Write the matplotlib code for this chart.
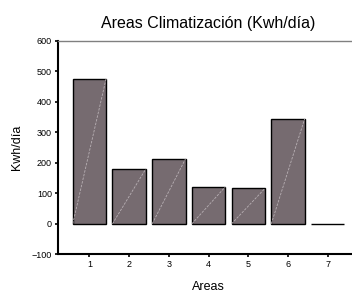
import numpy as np
import matplotlib
matplotlib.use('Agg')
import matplotlib.pyplot as plt

plt.rcParams['font.family'] = ['Liberation Sans', 'DejaVu Sans']

# datos
areas = ['1', '2', '3', '4', '5', '6', '7']
kwh = [476, 180, 213, 121, 116, 344, 0]

x = np.arange(1, len(areas) + 1)
w = 0.84

fig = plt.figure(figsize=(3.52, 2.93), dpi=100)
ax = fig.add_axes([0.165, 0.132, 0.855, 0.729])

bars = ax.bar(x, kwh, width=w, color='#766b70', edgecolor='black', linewidth=1.0, zorder=2)

# linea diagonal clara dentro de cada barra
for xi, v in zip(x, kwh):
    if v > 0:
        ax.plot([xi - w / 2, xi + w / 2], [0, v], color='#b8b0b4', lw=0.6,
                ls=(0, (3, 1.5)), zorder=3)

ax.set_xlim(0.21, 7.79)
ax.set_ylim(-100, 600)
ax.set_xticks(x)
ax.set_xticklabels(areas)
ax.set_yticks(np.arange(-100, 601, 100))

ax.spines['left'].set_linewidth(1.5)
ax.spines['bottom'].set_linewidth(1.5)
ax.spines['top'].set_color('#808080')
ax.spines['top'].set_linewidth(1.0)
ax.spines['right'].set_visible(False)

ax.tick_params(axis='y', length=2.5, width=1.2, labelsize=6.5, pad=2)
ax.tick_params(axis='x', length=2, width=1.2, labelsize=6.5, pad=2)

ax.set_ylabel('Kwh/día', fontsize=9, labelpad=6)
ax.set_xlabel('Areas', fontsize=9, labelpad=9)
ax.set_title('Areas Climatización (Kwh/día)', fontsize=11.5, pad=9)

fig.savefig('out.png', dpi=100)
